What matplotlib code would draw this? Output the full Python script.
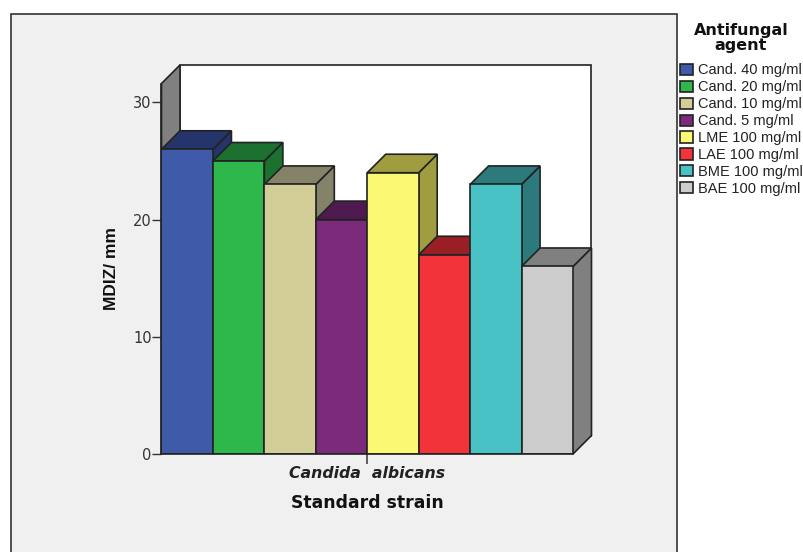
import matplotlib
matplotlib.use('Agg')
import matplotlib.pyplot as plt
from matplotlib.patches import Patch, Polygon, Rectangle

# Data
agents = ['Cand. 40 mg/ml', 'Cand. 20 mg/ml', 'Cand. 10 mg/ml', 'Cand. 5 mg/ml',
          'LME 100 mg/ml', 'LAE 100 mg/ml', 'BME 100 mg/ml', 'BAE 100 mg/ml']
mdiz = [26, 25, 23, 20, 24, 17, 23, 16]
y_ticks = [0, 10, 20, 30]
strain = 'Candida  albicans'

front_colors = ['#3e5aa8', '#2eb84c', '#d3ce97', '#7c2a7c', '#fbf873', '#f3333a', '#48c2c5', '#cccccc']
dark_colors = ['#25346b', '#1c7030', '#85826a', '#4f1a4f', '#a09d40', '#9a1f25', '#2d7a7c', '#808080']
EDGE = '#222222'

W, H = 804, 552
fig = plt.figure(figsize=(W / 100, H / 100), dpi=100, facecolor='white')

# Grey chart frame, runs off the bottom of the image
fig.patches.append(Rectangle((11 / W, -0.05), 666 / W, 1.05 - 14 / H, transform=fig.transFigure,
                             facecolor='#f0f0f0', edgecolor='#333333', linewidth=1.2, figure=fig, zorder=-1))

# Axes sit on the front plane of the 3D box
left, right, bottom, top = 161.5, 573, 454, 83.5
ax = fig.add_axes([left / W, 1 - bottom / H, (right - left) / W, (bottom - top) / H])
ax.set_facecolor('none')
ax.set_xlim(-0.5, 7.5)
unit = 11.72
ax.set_ylim(0, (bottom - top) / unit)

# Depth of the box in data units
dx = 18.5 / ((right - left) / 8)
dy = 18.5 / unit
ymax = (bottom - top) / unit

# Back wall and left wall
ax.add_patch(Polygon([(-0.5 + dx, dy), (7.5 + dx, dy), (7.5 + dx, ymax + dy), (-0.5 + dx, ymax + dy)],
                     closed=True, facecolor='white', edgecolor=EDGE, linewidth=1.2, clip_on=False, zorder=1))
ax.add_patch(Polygon([(-0.5, 0), (-0.5 + dx, dy), (-0.5 + dx, ymax + dy), (-0.5, ymax)],
                     closed=True, facecolor='#808080', edgecolor=EDGE, linewidth=1.2, clip_on=False, zorder=1))

# Bars, left to right so each one covers the side of the previous
for i, (val, fc, dc) in enumerate(zip(mdiz, front_colors, dark_colors)):
    z = 2 + i
    x0, x1 = i - 0.5, i + 0.5
    ax.add_patch(Polygon([(x1, 0), (x1 + dx, dy), (x1 + dx, val + dy), (x1, val)], closed=True,
                         facecolor=dc, edgecolor=EDGE, linewidth=1.2, clip_on=False, zorder=z))
    ax.add_patch(Polygon([(x0, val), (x0 + dx, val + dy), (x1 + dx, val + dy), (x1, val)], closed=True,
                         facecolor=dc, edgecolor=EDGE, linewidth=1.2, clip_on=False, zorder=z))
    ax.bar(i, val, width=1.0, color=fc, edgecolor=EDGE, linewidth=1.2, zorder=z)

for s in ['top', 'right']:
    ax.spines[s].set_visible(False)
for s in ['left', 'bottom']:
    ax.spines[s].set_color(EDGE)
    ax.spines[s].set_linewidth(1.2)
    ax.spines[s].set_zorder(20)

ax.set_yticks(y_ticks)
ax.tick_params(axis='y', length=6.5, width=1, color='#333333', labelsize=10.5, labelcolor='#333333', pad=0.5)
ax.set_xticks([3.5])
ax.set_xticklabels([strain], style='italic', fontweight='bold', fontsize=11.3, color='#222222')
ax.tick_params(axis='x', length=7, width=1.2, color='#444444', pad=2)
ax.set_xlabel('Standard strain', fontweight='bold', fontsize=12.4, color='#111111', labelpad=9)
ax.set_ylabel('MDIZ/ mm', fontweight='bold', fontsize=12.5, color='#111111', labelpad=10,
              family=['Liberation Sans'])

# Legend, title placed on its own so its gap to the rows can match
handles = [Patch(facecolor=c, edgecolor='#222222', linewidth=1.2) for c in front_colors]
leg = fig.legend(handles, agents, loc='upper left', bbox_to_anchor=(678.5 / W, 1 - 62 / H),
                 frameon=False,
                 prop={'family': 'Liberation Sans', 'size': 10.5},
                 handlelength=0.9, handleheight=0.8, handletextpad=0.35, labelspacing=0.2,
                 borderaxespad=0, borderpad=0.1)
for t in leg.get_texts():
    t.set_color('#222222')
fig.text(741 / W, 1 - 38 / H, 'Antifungal\nagent', ha='center', va='center', ma='center',
         fontweight='bold', fontsize=11.5, linespacing=0.95, color='#111111')

fig.savefig('out.png', dpi=100, facecolor='white')
